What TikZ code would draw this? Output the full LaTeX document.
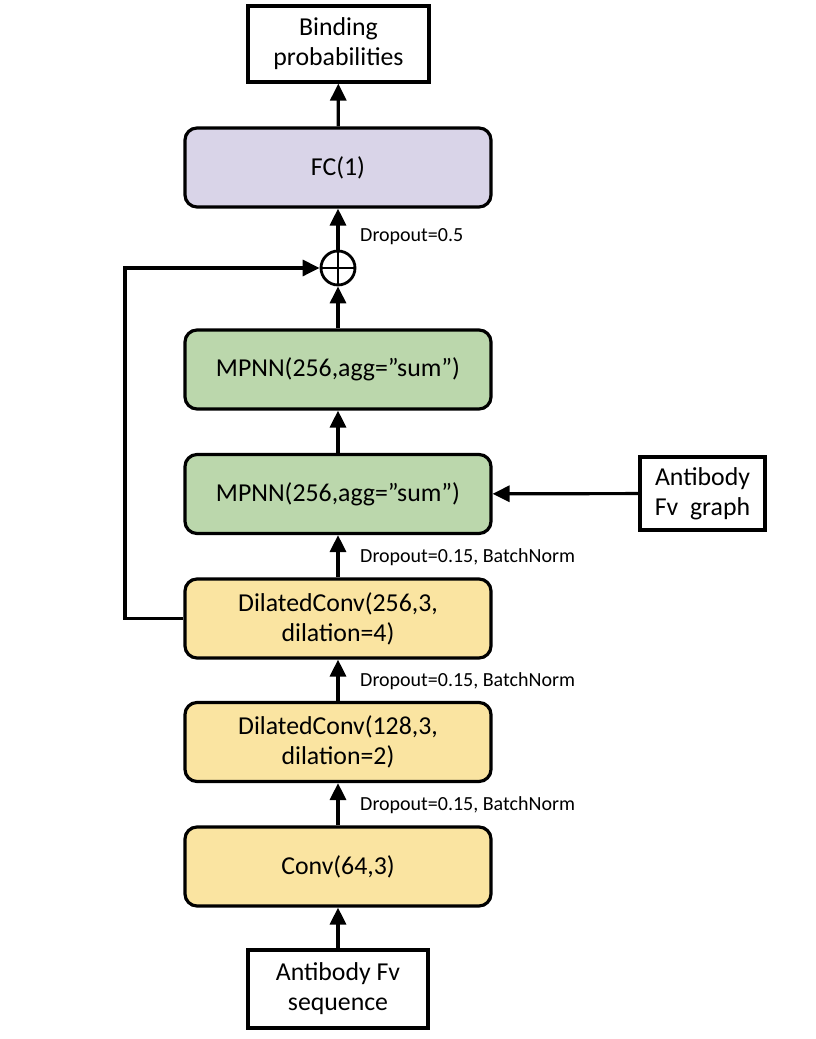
\documentclass[tikz,border=0pt]{standalone}
\usepackage{fontspec}
\setmainfont{Carlito}
\usetikzlibrary{arrows.meta}
\definecolor{fcpurple}{RGB}{217,212,232}
\definecolor{mpgreen}{RGB}{187,215,172}
\definecolor{cvyellow}{RGB}{250,228,161}
\tikzset{
  layer/.style={draw, line width=3.2pt, rounded corners=12pt, minimum width=306pt, minimum height=79pt, align=center, font=\fontsize{25.8}{30}\selectfont, inner sep=0pt},
  iobox/.style={draw, line width=3.2pt, fill=white, align=center, font=\fontsize{25.8}{30}\selectfont, inner sep=0pt},
  conn/.style={line width=3.2pt, -{Triangle[length=17pt,width=16pt]}},
  note/.style={font=\fontsize{20}{24}\selectfont, anchor=west, inner sep=0pt}
}
\begin{document}
\begin{tikzpicture}[x=1pt,y=1pt]
\useasboundingbox (0,0) rectangle (815,1039);
\node[iobox, minimum width=181pt, minimum height=76pt] (out) at (338.5,995) {Binding\\probabilities};
\node[layer, fill=fcpurple] (fc) at (338,871.5) {FC(1)};
\node[draw, circle, line width=2.8pt, minimum size=34pt, inner sep=0pt] (plus) at (338,771) {};
\draw[line width=2.8pt] (plus.north) -- (plus.south) (plus.west) -- (plus.east);
\node[layer, fill=mpgreen] (mp1) at (338,669.5) {MPNN(256,agg=”sum”)};
\node[layer, fill=mpgreen] (mp2) at (338,545) {MPNN(256,agg=”sum”)};
\node[iobox, minimum width=125pt, minimum height=73pt] (graph) at (702.5,545.5) {Antibody\\Fv\ \ graph};
\node[layer, fill=cvyellow] (dc4) at (338,420.5) {DilatedConv(256,3,\\dilation=4)};
\node[layer, fill=cvyellow] (dc2) at (338,297) {DilatedConv(128,3,\\dilation=2)};
\node[layer, fill=cvyellow] (cv) at (338,172.5) {Conv(64,3)};
\node[iobox, minimum width=180pt, minimum height=78pt] (seq) at (338,50) {Antibody Fv\\sequence};
\coordinate (skipb) at (125,420.5);
\coordinate (skipt) at (125,771);
\draw[conn] (seq) -- (cv);
\draw[conn] (cv) -- (dc2);
\draw[conn] (dc2) -- (dc4);
\draw[conn] (dc4) -- (mp2);
\draw[conn] (graph) -- (mp2);
\draw[conn] (mp2) -- (mp1);
\draw[conn] (mp1) -- (plus);
\draw[conn] (plus) -- (fc);
\draw[conn] (fc) -- (out);
\draw[conn] (dc4.west) -- (skipb) -- (skipt) -- (plus.west);
\node[note] (n1) at (360,802) {Dropout=0.5};
\node[note] (n2) at (360,482) {Dropout=0.15, BatchNorm};
\node[note] (n3) at (360,358) {Dropout=0.15, BatchNorm};
\node[note] (n4) at (360,234) {Dropout=0.15, BatchNorm};
\end{tikzpicture}
\end{document}
